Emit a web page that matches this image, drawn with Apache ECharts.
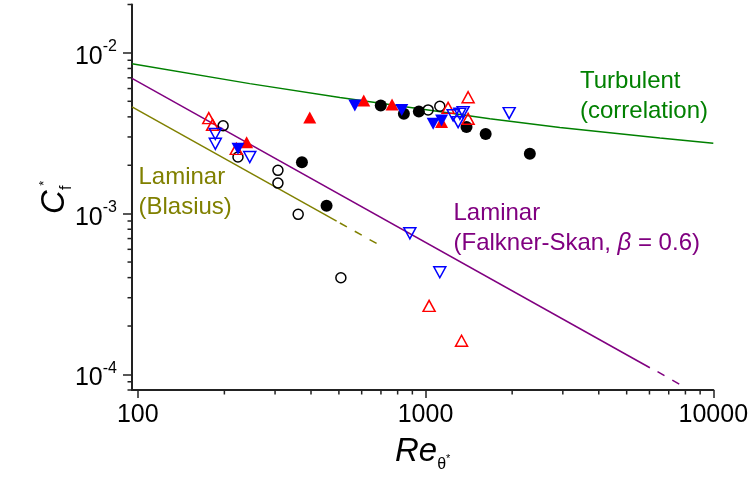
<!DOCTYPE html>
<html>
<head>
<meta charset="utf-8">
<script src="https://cdn.jsdelivr.net/npm/echarts@6/dist/echarts.min.js"></script>
<style>
  html, body { margin: 0; padding: 0; background: #fff; }
  #chart { width: 752px; height: 478px; }
</style>
</head>
<body>
<div id="chart"></div>
<script>
// Skin-friction measurements, [Re_theta*, Cf*]
const blackFilled = [[699, 4.71e-3], [841, 4.18e-3], [948, 4.32e-3], [1388, 3.46e-3], [1618, 3.13e-3], [2304, 2.36e-3], [372, 2.09e-3], [453, 1.12e-3]];
const blackOpen = [[198, 3.52e-3], [223, 2.25e-3], [307, 1.86e-3], [307, 1.55e-3], [361, 9.9e-4], [508, 3.99e-4], [1021, 4.42e-3], [1121, 4.66e-3]];
const redFilled = [[610, 5.05e-3], [765, 4.78e-3], [396, 3.97e-3], [239, 2.78e-3], [1137, 3.71e-3]];
const redOpen = [[176.5, 3.93e-3], [182, 3.57e-3], [220, 2.53e-3], [1198, 4.55e-3], [1406, 5.30e-3], [1406, 3.89e-3], [1029, 2.67e-4], [1334, 1.62e-4]];
const blueFilled = [[568, 4.71e-3], [827, 4.42e-3], [1063, 3.62e-3], [1137, 3.80e-3], [223, 2.53e-3]];
const blueOpen = [[186, 3.13e-3], [186, 2.72e-3], [245, 2.25e-3], [1247, 4.09e-3], [1316, 4.18e-3], [1351, 4.28e-3], [1298, 3.71e-3], [1953, 4.22e-3], [882, 7.55e-4], [1121, 4.32e-4]];

// Reference curves
const turbulent = [[95.5, 8.55e-3], [245, 6.44e-3], [504, 5.28e-3], [1673, 3.89e-3], [2930, 3.44e-3], [6523, 2.96e-3], [10000, 2.74e-3]];
const blasiusSolid = [[95.5, 4.62e-3], [491, 8.98e-4]];
const blasiusDashed = [[504, 8.75e-4], [684, 6.45e-4]];
const fsSolid = [[95.5, 6.95e-3], [6020, 1.10e-4]];
const fsDashed = [[6400, 1.04e-4], [8080, 8.2e-5]];

// Axis ranges and ticks
const X_MIN = 95.5, X_MAX = 10000;
const Y_MIN = 8e-5, Y_MAX = 2e-2;
const xMajor = [100, 1000, 10000];
const xMajorLabels = ['100', '1000', '10000'];
const xMinor = [200, 300, 400, 500, 600, 700, 800, 900, 2000, 3000, 4000, 5000, 6000, 7000, 8000, 9000];
const yMajor = [1e-4, 1e-3, 1e-2];
const yMajorExp = ['-4', '-3', '-2'];
const yMinor = [8e-5, 9e-5, 2e-4, 3e-4, 4e-4, 5e-4, 6e-4, 7e-4, 8e-4, 9e-4, 2e-3, 3e-3, 4e-3, 5e-3, 6e-3, 7e-3, 8e-3, 9e-3, 2e-2];

const FONT = '"Liberation Sans", Arial, sans-serif';
const AXIS_COLOR = '#222';
const MINOR_LEN = 4.5;

function majorIndex(list, v) {
  for (let i = 0; i < list.length; i++) {
    if (Math.abs(Math.log10(v) - Math.log10(list[i])) < 1e-6) return i;
  }
  return -1;
}

const chart = echarts.init(document.getElementById('chart'), null, { renderer: 'canvas' });

function lineSeries(data, color, dashed) {
  return {
    type: 'line', data: data,
    symbol: 'none', silent: true, z: 1,
    lineStyle: { color: color, width: 1.5, type: dashed ? [8, 9] : 'solid' }
  };
}

function scatterSeries(data, opts) {
  return Object.assign({ type: 'scatter', data: data, silent: true, z: 3 }, opts);
}

const filledStyle = (c) => ({ color: c, opacity: 1 });
const openStyle = (c) => ({ color: 'rgba(0,0,0,0)', borderColor: c, borderWidth: 1.5, opacity: 1 });

// Short outward tick marks for the minor log divisions
function minorTickSeries(values, onX) {
  return {
    type: 'custom', silent: true, clip: false, z: 5,
    data: values.map(v => onX ? [v, Y_MIN] : [X_MIN, v]),
    renderItem: function (params, api) {
      const p = api.coord([api.value(0), api.value(1)]);
      const shape = onX
        ? { x1: p[0], y1: p[1], x2: p[0], y2: p[1] + MINOR_LEN }
        : { x1: p[0] - MINOR_LEN, y1: p[1], x2: p[0], y2: p[1] };
      return { type: 'line', shape: shape, style: { stroke: AXIS_COLOR, lineWidth: 1.5 } };
    }
  };
}

chart.setOption({
  animation: false,
  backgroundColor: '#fff',
  grid: { left: 132, right: 38.7, top: 4.5, bottom: 84.7, containLabel: false },
  xAxis: {
    type: 'log', logBase: 10, min: X_MIN, max: X_MAX, position: 'bottom',
    axisLine: { show: true, onZero: false, lineStyle: { color: AXIS_COLOR, width: 2 } },
    axisTick: { show: true, customValues: xMajor, length: 8, lineStyle: { color: AXIS_COLOR, width: 1.5 } },
    axisLabel: {
      customValues: xMajor, fontSize: 25, fontFamily: FONT, color: '#000', margin: 13,
      formatter: (v) => { const i = majorIndex(xMajor, v); return i >= 0 ? xMajorLabels[i] : ''; }
    },
    splitLine: { show: false }, minorTick: { show: false },
    name: '{r|Re}{t|θ}{a|*}', nameLocation: 'middle', nameGap: 40, nameMoveOverlap: false,
    nameTextStyle: {
      rich: {
        r: { fontSize: 33, fontStyle: 'italic', fontFamily: FONT, color: '#000' },
        t: { fontSize: 16, fontFamily: FONT, color: '#000', padding: [27, 0, 0, 0] },
        a: { fontSize: 11, fontFamily: FONT, color: '#000', padding: [14, 0, 0, 0] }
      }
    }
  },
  yAxis: {
    type: 'log', logBase: 10, min: Y_MIN, max: Y_MAX, position: 'left',
    axisLine: { show: true, onZero: false, lineStyle: { color: AXIS_COLOR, width: 2 } },
    axisTick: { show: true, customValues: yMajor, length: 9, lineStyle: { color: AXIS_COLOR, width: 1.5 } },
    axisLabel: {
      customValues: yMajor, margin: 15, padding: [8, 0, 0, 0],
      formatter: (v) => { const i = majorIndex(yMajor, v); return i >= 0 ? '{b|10}{s|' + yMajorExp[i] + '}' : ''; },
      rich: {
        b: { fontSize: 25, fontFamily: FONT, color: '#000' },
        s: { fontSize: 16, fontFamily: FONT, color: '#000', padding: [0, 0, 20, 0] }
      }
    },
    splitLine: { show: false }, minorTick: { show: false },
    name: '{c|C}{f|f}{a|*}', nameLocation: 'middle', nameGap: 57, nameRotate: 90, nameMoveOverlap: false,
    nameTextStyle: {
      rich: {
        c: { fontSize: 33, fontStyle: 'italic', fontFamily: FONT, color: '#000' },
        f: { fontSize: 16, fontFamily: FONT, color: '#000', padding: [24, 0, 0, 0] },
        a: { fontSize: 13, fontFamily: FONT, color: '#000', padding: [0, 0, 22, 0] }
      }
    }
  },
  graphic: [
    {
      type: 'text', x: 580, y: 66.7, silent: true,
      style: { text: 'Turbulent\n(correlation)', fill: '#008000', font: '24px ' + FONT, lineHeight: 30, verticalAlign: 'top' }
    },
    {
      type: 'text', x: 138.5, y: 162.7, silent: true,
      style: { text: 'Laminar\n(Blasius)', fill: '#808000', font: '24px ' + FONT, lineHeight: 29.5, verticalAlign: 'top' }
    },
    {
      type: 'text', x: 453.5, y: 198.2, silent: true,
      style: {
        text: '{n|Laminar}\n{n|(Falkner-Skan, }{i|β}{n| = 0.6)}',
        verticalAlign: 'top', fill: '#800080',
        rich: {
          n: { fontSize: 24, fontFamily: FONT, fill: '#800080', lineHeight: 30 },
          i: { fontSize: 24, fontFamily: FONT, fontStyle: 'italic', fill: '#800080', lineHeight: 30 }
        }
      }
    }
  ],
  series: [
    minorTickSeries(xMinor, true),
    minorTickSeries(yMinor, false),
    lineSeries(turbulent, '#008000', false),
    lineSeries(blasiusSolid, '#808000', false),
    lineSeries(blasiusDashed, '#808000', true),
    lineSeries(fsSolid, '#800080', false),
    lineSeries(fsDashed, '#800080', true),
    scatterSeries(blackFilled, { symbol: 'circle', symbolSize: 12, itemStyle: filledStyle('#000') }),
    scatterSeries(blackOpen, { symbol: 'circle', symbolSize: 10, itemStyle: openStyle('#000') }),
    scatterSeries(redFilled, { symbol: 'triangle', symbolSize: [13, 12], itemStyle: filledStyle('#ff0000') }),
    scatterSeries(redOpen, { symbol: 'triangle', symbolSize: [12, 11], itemStyle: openStyle('#ff0000') }),
    scatterSeries(blueFilled, { symbol: 'triangle', symbolRotate: 180, symbolSize: [13, 12], itemStyle: filledStyle('#0000ff') }),
    scatterSeries(blueOpen, { symbol: 'triangle', symbolRotate: 180, symbolSize: [12, 11], itemStyle: openStyle('#0000ff') })
  ]
});
</script>
</body>
</html>
